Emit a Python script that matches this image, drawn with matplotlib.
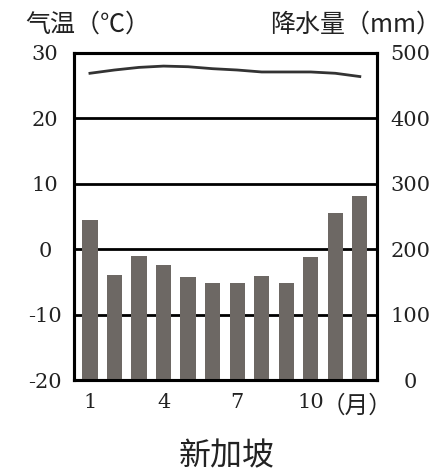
import matplotlib.pyplot as plt

months = list(range(1, 13))
precip = [245, 160, 189, 176, 158, 149, 149, 159, 149, 188, 255, 281]
temp = [26.9, 27.4, 27.8, 28.0, 27.9, 27.6, 27.4, 27.1, 27.1, 27.1, 26.9, 26.4]

temp_ticks = [-20, -10, 0, 10, 20, 30]
precip_ticks = [0, 100, 200, 300, 400, 500]
month_ticks = [1, 4, 7, 10]

cjk = ["Noto Sans CJK SC", "DejaVu Sans"]
num_font = "DejaVu Serif"

fig = plt.figure(figsize=(4.45, 4.76), dpi=100)
ax = fig.add_axes([74 / 445, 1 - 380 / 476, 303 / 445, 327 / 476])
ax2 = ax.twinx()

# gridlines behind bars
for v in [100, 200, 300, 400]:
    ax2.axhline(v, color="black", lw=2, zorder=0)

ax2.bar(months, precip, width=0.62, color="#6d6864", zorder=2)
ax.plot(months, temp, color="#333333", lw=2)

ax.set_xlim(0.35, 12.7)
ax.set_ylim(-20, 30)
ax2.set_ylim(0, 500)

ax.set_yticks(temp_ticks)
ax.set_yticklabels([str(t) for t in temp_ticks], family=num_font, fontsize=15, ha="center")
ax2.set_yticks(precip_ticks)
ax2.set_yticklabels([str(p) for p in precip_ticks], family=num_font, fontsize=15, ha="center")
ax.set_xticks(month_ticks)
ax.set_xticklabels([str(m) for m in month_ticks], family=num_font, fontsize=15)

ax.tick_params(axis="y", length=0, pad=21, colors="#222222")
ax2.tick_params(axis="y", length=0, pad=24, colors="#222222")
ax.tick_params(axis="x", length=0, pad=9, colors="#222222")

for a in (ax, ax2):
    for s in a.spines.values():
        s.set_linewidth(2.2)
        s.set_color("black")

fig.text(322 / 445, 1 - 406 / 476, "（月）", family=cjk, fontsize=17, ha="left", va="center",
         weight="medium", color="#222222")
fig.text(25 / 445, 1 - 25 / 476, "气温（℃）", family=cjk, fontsize=18, ha="left", va="center",
         weight="medium", color="#222222")
fig.text(441 / 445, 1 - 25 / 476, "降水量（mm）", family=cjk, fontsize=18, ha="right", va="center",
         weight="medium", color="#222222")
fig.text(227 / 445, 1 - 456 / 476, "新加坡", family=cjk, fontsize=23, ha="center", va="center",
         color="#222222")

fig.savefig("out.png", dpi=100)
